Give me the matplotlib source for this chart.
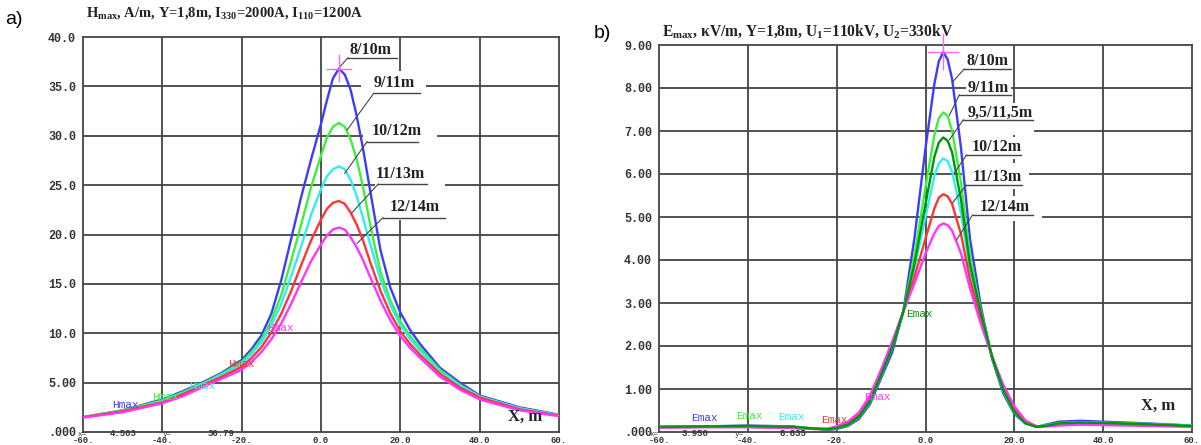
import matplotlib.pyplot as plt
from matplotlib.patches import Rectangle

plt.rcParams['mathtext.default'] = 'regular'

W, H = 1201, 445

# ---- panel a) H_max, A/m ----
x_h = [-60, -50, -40, -35, -30, -25, -20, -17.5, -15, -12.5, -10, -7.5, -5, -2.5, 0,
       1.5, 3, 4.5, 6, 7.5, 9, 10.5, 12.5, 15, 17.5, 20, 22.5, 25, 30, 35, 40, 50, 60]
h_8_10 = [1.5, 2.2, 3.3, 4.1, 5.0, 6.0, 7.3, 8.4, 9.8, 12.0, 15.4, 19.6, 23.8, 27.6, 31.2,
          33.6, 35.8, 36.8, 36.2, 34.6, 32.0, 28.9, 24.2, 18.4, 14.6, 12.1, 10.3, 8.9, 6.5, 5.0, 3.7, 2.5, 1.75]
h_9_11 = [1.5, 2.2, 3.2, 4.0, 4.9, 5.9, 7.1, 8.1, 9.4, 11.3, 13.9, 17.4, 21.0, 24.8, 28.0,
          29.8, 30.9, 31.3, 30.9, 29.6, 27.6, 25.0, 20.8, 16.2, 13.3, 11.2, 9.7, 8.5, 6.3, 4.8, 3.6, 2.4, 1.7]
h_10_12 = [1.5, 2.1, 3.1, 3.9, 4.8, 5.8, 6.9, 7.9, 9.1, 10.8, 13.0, 15.8, 18.8, 22.0, 24.6,
           25.9, 26.6, 26.9, 26.6, 25.5, 23.9, 21.8, 18.9, 15.4, 12.8, 10.8, 9.4, 8.2, 6.1, 4.7, 3.6, 2.4, 1.7]
h_11_13 = [1.5, 2.1, 3.0, 3.8, 4.7, 5.6, 6.6, 7.5, 8.6, 10.1, 12.0, 14.3, 16.9, 19.4, 21.5,
           22.6, 23.2, 23.4, 23.1, 22.2, 21.0, 19.5, 17.1, 14.3, 12.0, 10.2, 8.9, 7.8, 5.9, 4.5, 3.5, 2.3, 1.65]
h_12_14 = [1.45, 2.0, 2.9, 3.6, 4.5, 5.4, 6.3, 7.1, 8.1, 9.4, 11.0, 13.0, 15.2, 17.3, 19.0,
           19.9, 20.5, 20.7, 20.5, 19.7, 18.7, 17.5, 15.6, 13.3, 11.3, 9.7, 8.5, 7.5, 5.6, 4.3, 3.3, 2.2, 1.6]
h_series = [h_8_10, h_9_11, h_10_12, h_11_13, h_12_14]
h_names = ['8/10m', '9/11m', '10/12m', '11/13m', '12/14m']
h_colors = ['#3c3cff', '#3cf03c', '#30eeee', '#ff3434', '#ff34ff']
h_readout = ['4.503', '36.79']
h_yticks = [0, 5, 10, 15, 20, 25, 30, 35, 40]
h_yticklabels = ['.000', '5.00', '10.0', '15.0', '20.0', '25.0', '30.0', '35.0', '40.0']

# ---- panel b) E_max, kV/m ----
x_e = [-60, -50, -40, -30, -25, -22, -20, -17.5, -15, -12.5, -10, -7.5, -5, -2.5, 0, 2, 3, 4,
       5, 6, 8, 10, 12.5, 15, 17.5, 20, 22.5, 25, 27.5, 30, 35, 40, 50, 60]
e_8_10 = [0.12, 0.13, 0.15, 0.13, 0.08, 0.05, 0.07, 0.14, 0.3, 0.65, 1.25, 1.85, 2.8, 4.5, 6.6, 8.1, 8.62, 8.84,
          8.66, 8.2, 6.6, 4.5, 2.9, 1.7, 0.9, 0.42, 0.2, 0.12, 0.18, 0.24, 0.26, 0.24, 0.2, 0.15]
e_9_11 = [0.12, 0.13, 0.14, 0.12, 0.08, 0.06, 0.08, 0.16, 0.33, 0.7, 1.3, 1.95, 2.8, 4.1, 5.7, 6.9, 7.3, 7.43,
          7.35, 7.0, 5.8, 4.1, 2.8, 1.75, 0.95, 0.45, 0.2, 0.12, 0.16, 0.21, 0.23, 0.22, 0.19, 0.15]
e_95_115 = [0.12, 0.13, 0.14, 0.12, 0.08, 0.06, 0.09, 0.17, 0.35, 0.72, 1.32, 1.97, 2.8, 3.9, 5.3, 6.4, 6.73, 6.85,
            6.77, 6.5, 5.4, 3.9, 2.75, 1.75, 0.98, 0.47, 0.2, 0.12, 0.15, 0.2, 0.22, 0.21, 0.18, 0.14]
e_10_12 = [0.11, 0.12, 0.13, 0.11, 0.08, 0.06, 0.1, 0.18, 0.37, 0.75, 1.35, 2.0, 2.8, 3.8, 5.0, 5.95, 6.25, 6.36,
           6.3, 6.05, 5.1, 3.75, 2.7, 1.75, 1.0, 0.5, 0.22, 0.13, 0.15, 0.19, 0.21, 0.2, 0.17, 0.14]
e_11_13 = [0.11, 0.12, 0.12, 0.1, 0.07, 0.07, 0.11, 0.2, 0.4, 0.8, 1.4, 2.05, 2.8, 3.6, 4.5, 5.2, 5.45, 5.53,
           5.48, 5.3, 4.6, 3.55, 2.6, 1.75, 1.05, 0.55, 0.24, 0.13, 0.14, 0.17, 0.19, 0.18, 0.16, 0.13]
e_12_14 = [0.1, 0.11, 0.11, 0.09, 0.07, 0.08, 0.13, 0.24, 0.45, 0.85, 1.45, 2.1, 2.8, 3.45, 4.15, 4.62, 4.79, 4.85,
           4.81, 4.68, 4.15, 3.35, 2.5, 1.75, 1.1, 0.6, 0.27, 0.13, 0.13, 0.15, 0.17, 0.16, 0.14, 0.12]
e_series = [e_8_10, e_9_11, e_10_12, e_11_13, e_12_14, e_95_115]
e_names = ['8/10m', '9/11m', '10/12m', '11/13m', '12/14m', '9,5/11,5m']
e_colors = ['#3c3cff', '#3cf03c', '#30eeee', '#ff3434', '#ff34ff', '#00960a']
e_readout = ['3.950', '8.835']
e_yticks = [0, 1, 2, 3, 4, 5, 6, 7, 8, 9]
e_yticklabels = ['.000', '1.00', '2.00', '3.00', '4.00', '5.00', '6.00', '7.00', '8.00', '9.00']

xticks = [-60, -40, -20, 0, 20, 40, 60]
xticklabels = ['-60.', '-40.', '-20.', '0.0', '20.0', '40.0', '60.']

GRID = '#444444'
INK = '#333333'
MONO = 'Liberation Mono'
SERIF = 'Liberation Serif'


def px_axes(fig, l, t, r, b):
    return fig.add_axes([l / W, 1 - b / H, (r - l) / W, (b - t) / H])


def frame(ax, ymax, yticks, ylabels):
    ax.set_xlim(-60, 60)
    ax.set_ylim(0, ymax)
    for xv in xticks[1:-1]:
        ax.axvline(xv, color=GRID, lw=1.3, zorder=1)
    for yv in yticks[1:-1]:
        ax.axhline(yv, color=GRID, lw=1.3, zorder=1)
    ax.set_xticks(xticks)
    ax.set_xticklabels(xticklabels)
    ax.set_yticks(yticks)
    ax.set_yticklabels(ylabels)
    ax.tick_params(length=0, colors=INK)
    ax.tick_params(axis='y', pad=5, labelsize=8.5)
    ax.tick_params(axis='x', pad=2.6, labelsize=6.5)
    for lab in ax.get_xticklabels() + ax.get_yticklabels():
        lab.set_family(MONO)
        lab.set_weight('bold')
    for sp in ax.spines.values():
        sp.set_color(GRID)
        sp.set_linewidth(1.3)


def callout(ax, text, tx, ty, u0, u1, uy, lx, ly, box):
    bx0, bx1, by0, by1 = box
    ax.add_patch(Rectangle((bx0, by0), bx1 - bx0, by1 - by0, facecolor='white',
                           edgecolor='none', zorder=2))
    ax.text(tx, ty, text, ha='left', va='center', family=SERIF, weight='bold',
            fontsize=11.5, color='#222222', zorder=5)
    ax.plot([u0, u1], [uy, uy], color='#444444', lw=1.0, zorder=4)
    ax.plot([lx, u0], [ly, uy], color='#444444', lw=0.8, zorder=4)


fig = plt.figure(figsize=(W / 100, H / 100), dpi=100)

# ---------- a) ----------
ax1 = px_axes(fig, 83, 37, 559, 432)
frame(ax1, 40, h_yticks, h_yticklabels)
for ys, c in zip(h_series, h_colors):
    ax1.plot(x_h, ys, color=c, lw=1.7, zorder=3)

h_layout = [  # text x, text y, underline x0, x1, y, leader start x, y, box
    (7.3, 38.7, 6.8, 19.2, 37.9, 4.8, 37.0, (6.5, 19.5, 37.6, 39.8)),
    (13.3, 35.3, 13.3, 25.0, 34.3, 6.6, 30.6, (10.2, 26.5, 33.3, 36.6)),
    (12.9, 30.5, 11.6, 24.4, 29.4, 6.0, 26.2, (10.6, 29.2, 28.6, 33.3)),
    (13.8, 26.1, 14.4, 26.7, 25.1, 7.8, 22.2, (13.6, 31.3, 24.3, 28.6)),
    (17.4, 22.8, 15.6, 31.3, 21.7, 9.1, 19.1, (15.6, 32.0, 21.5, 24.3)),
]
for name, lay in zip(h_names, h_layout):
    callout(ax1, name, *lay)

ax1.plot([1.4, 7.6], [36.8, 36.8], color='#ff66ff', lw=1, zorder=4)
ax1.plot([4.5, 4.5], [35.5, 38.2], color='#ff66ff', lw=1, zorder=4)

h_tag_pos = [(-52.6, 2.7), (-42.6, 3.5), (-33.2, 4.7), (-23.4, 6.9), (-13.7, 10.5)]
for (tx, ty), c in zip(h_tag_pos, h_colors):
    ax1.text(tx, ty, 'Hmax', color=c, family=MONO, fontsize=8, ha='left', va='center', zorder=4)

ax1.text(51.5, 1.5, 'X, m', family=SERIF, weight='bold', fontsize=12, color='#222222',
         ha='center', va='center', zorder=5)

fig.text(5 / W, 1 - 20 / H, 'a)', family='Liberation Sans', fontsize=14, va='center')
fig.text(86 / W, 1 - 13 / H, r'H$_{max}$, A/m, Y=1,8m, I$_{330}$=2000A, I$_{110}$=1200A',
         family=SERIF, weight='bold', fontsize=10.5, va='center', color='#222222')

# ---------- b) ----------
ax2 = px_axes(fig, 659, 45, 1192, 432)
frame(ax2, 9, e_yticks, e_yticklabels)
for ys, c in zip(e_series, e_colors):
    ax2.plot(x_e, ys, color=c, lw=1.7, zorder=3)

e_layout = [
    (9.2, 8.62, 8.7, 19.3, 8.44, 6.1, 8.14, (8.5, 19.5, 8.35, 8.9)),
    (9.5, 8.0, 7.6, 19.3, 7.84, 5.4, 7.37, (9.2, 19.3, 7.8, 8.2)),
    (10.3, 6.62, 9.2, 21.6, 6.44, 6.5, 6.02, (8.5, 22.5, 6.35, 6.85)),
    (10.6, 5.93, 9.2, 21.8, 5.74, 6.1, 5.33, (8.3, 23.4, 5.65, 6.25)),
    (12.1, 5.23, 10.6, 24.3, 5.05, 7.0, 4.47, (9.5, 26.3, 4.9, 5.5)),
    (9.5, 7.43, 8.5, 24.1, 7.26, 5.4, 6.8, (6.5, 24.5, 6.9, 7.65)),
]
for name, lay in zip(e_names, e_layout):
    callout(ax2, name, *lay)

ax2.plot([0.5, 7.4], [8.835, 8.835], color='#ff66ff', lw=1, zorder=4)
ax2.plot([3.95, 3.95], [8.45, 9.25], color='#ff66ff', lw=1, zorder=4, clip_on=False)

e_tag_pos = [(-52.7, 0.33), (-42.7, 0.37), (-33.2, 0.35), (-23.5, 0.27), (-13.8, 0.82), (-4.3, 2.75)]
for (tx, ty), c in zip(e_tag_pos, e_colors):
    ax2.text(tx, ty, 'Emax', color=c, family=MONO, fontsize=8, ha='left', va='center', zorder=4)

ax2.text(52.4, 0.6, 'X, m', family=SERIF, weight='bold', fontsize=12, color='#222222',
         ha='center', va='center', zorder=5)

fig.text(594 / W, 1 - 33 / H, 'b)', family='Liberation Sans', fontsize=14, va='center')
fig.text(662 / W, 1 - 31 / H, r'E$_{max}$, κV/m, Y=1,8m, U$_1$=110kV, U$_2$=330kV',
         family=SERIF, weight='bold', fontsize=11.2, va='center', color='#222222')

# cursor readouts just under the plot frames
for x0, vals in [(78, h_readout), (650, e_readout)]:
    fig.text(x0 / W, 1 - 434 / H, 'x=', family=MONO, fontsize=5.5, color=INK, va='center')
    fig.text((x0 + 32) / W, 1 - 434 / H, vals[0], family=MONO, weight='bold', fontsize=6.5,
             color=INK, va='center')
    fig.text((x0 + 85) / W, 1 - 434 / H, 'y=', family=MONO, fontsize=5.5, color=INK, va='center')
    fig.text((x0 + 130) / W, 1 - 434 / H, vals[1], family=MONO, weight='bold', fontsize=6.5,
             color=INK, va='center')

fig.savefig('out.png', dpi=100, facecolor='white')
